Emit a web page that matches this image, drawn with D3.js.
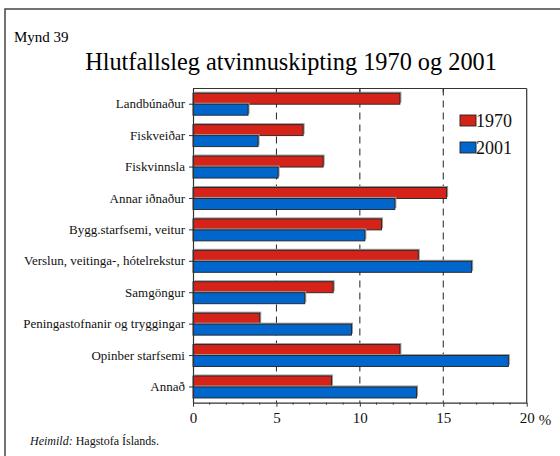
<!DOCTYPE html>
<html>
<head>
<meta charset="utf-8">
<script src="https://cdn.jsdelivr.net/npm/d3@7"></script>
<style>
  html, body { margin: 0; padding: 0; background: #fff; }
  svg { display: block; font-family: "Liberation Serif", "Times New Roman", serif; }
  svg text { font-family: "Liberation Serif", "Times New Roman", serif; }
</style>
</head>
<body>
<svg id="chart" width="560" height="456"></svg>
<script>
// Sectors and their share of employment (%)
const categories = [
  "Landbúnaður", "Fiskveiðar", "Fiskvinnsla", "Annar iðnaður",
  "Bygg.starfsemi, veitur", "Verslun, veitinga-, hótelrekstur",
  "Samgöngur", "Peningastofnanir og tryggingar", "Opinber starfsemi", "Annað"
];
const years = ["1970", "2001"];
const values1970 = [12.4, 6.6, 7.8, 15.2, 11.3, 13.5, 8.4, 4.0, 12.4, 8.3];
const values2001 = [3.3, 3.9, 5.1, 12.1, 10.3, 16.7, 6.7, 9.5, 18.9, 13.4];
const xTicks = [0, 5, 10, 15, 20];
const colors = ["#d6231a", "#0066cc"];

const svg = d3.select("#chart");
const plotLeft = 193, plotRight = 526.7, plotTop = 88.5, plotBottom = 402.7;

// outer frame
svg.append("rect").attr("x", 5).attr("y", 9).attr("width", 570).attr("height", 470)
  .attr("fill", "none").attr("stroke", "#444").attr("stroke-width", 1.5);

svg.append("text").attr("x", 14).attr("y", 42).attr("font-size", 15).text("Mynd 39");
svg.append("text").attr("x", 291).attr("y", 70).attr("font-size", 24.3)
  .attr("text-anchor", "middle").text("Hlutfallsleg atvinnuskipting 1970 og 2001");

const x = d3.scaleLinear().domain([0, 20]).range([plotLeft, plotRight]);
const y = d3.scaleBand().domain(categories).range([plotTop, plotBottom])
  .paddingInner(0.3).paddingOuter(0.15);
const ySub = d3.scaleBand().domain(years).range([0, y.bandwidth()]);

// dashed gridlines
svg.append("g").selectAll("line").data([5, 10, 15]).join("line")
  .attr("x1", d => x(d)).attr("x2", d => x(d))
  .attr("y1", plotTop).attr("y2", plotBottom)
  .attr("stroke", "#222").attr("stroke-width", 1).attr("stroke-dasharray", "7,5");

// bars
const series = [values1970, values2001];
series.forEach((vals, si) => {
  const g = svg.append("g");
  const rows = categories.map((c, i) => ({ c, v: vals[i] }));
  g.selectAll("rect.shadow").data(rows).join("rect").attr("class", "shadow")
    .attr("x", x(0) + 1.5).attr("y", d => y(d.c) + ySub(years[si]) - 1.5)
    .attr("width", d => x(d.v) - x(0)).attr("height", ySub.bandwidth())
    .attr("fill", "#999");
  g.selectAll("rect.bar").data(rows).join("rect").attr("class", "bar")
    .attr("x", x(0)).attr("y", d => y(d.c) + ySub(years[si]))
    .attr("width", d => x(d.v) - x(0)).attr("height", ySub.bandwidth())
    .attr("fill", colors[si]).attr("stroke", "#222").attr("stroke-width", 0.9);
});

// plot frame
svg.append("line").attr("x1", plotLeft).attr("x2", plotRight).attr("y1", plotTop).attr("y2", plotTop)
  .attr("stroke", "#333").attr("stroke-width", 1.2);
svg.append("line").attr("x1", plotRight).attr("x2", plotRight).attr("y1", plotTop).attr("y2", plotBottom)
  .attr("stroke", "#333").attr("stroke-width", 1.2);
svg.append("g").selectAll("line").data([5, 10, 15]).join("line")
  .attr("x1", d => x(d)).attr("x2", d => x(d)).attr("y1", plotTop).attr("y2", plotTop + 4)
  .attr("stroke", "#333");

// bottom axis: major ticks with labels, minor ticks every unit
const xAxis = svg.append("g").attr("transform", `translate(0,${plotBottom})`)
  .call(d3.axisBottom(x).tickValues(xTicks).tickSize(4).tickPadding(6).tickSizeOuter(0)
    .tickFormat(d3.format("d")))
  .attr("font-family", null);
xAxis.select(".domain").attr("stroke", "#333").attr("stroke-width", 1.2);
xAxis.selectAll(".tick line").attr("stroke", "#333");
xAxis.selectAll(".tick text").style("font-size", "15px").attr("fill", "#111");
svg.append("g").selectAll("line").data(d3.range(0, 21).filter(d => d % 5 !== 0)).join("line")
  .attr("x1", d => x(d)).attr("x2", d => x(d)).attr("y1", plotBottom).attr("y2", plotBottom + 2)
  .attr("stroke", "#333");
svg.append("text").attr("x", x(20) + 12).attr("y", plotBottom + 22).style("font-size", "15px")
  .attr("fill", "#111").text("%");

// left axis with category labels
const yAxis = svg.append("g").attr("transform", `translate(${plotLeft},0)`)
  .call(d3.axisLeft(y).tickSize(4).tickPadding(4).tickSizeOuter(0))
  .attr("font-family", null);
yAxis.select(".domain").attr("stroke", "#333").attr("stroke-width", 1.2);
yAxis.selectAll(".tick line").attr("stroke", "#333");
yAxis.selectAll(".tick text").style("font-size", "13px").attr("fill", "#111");

// legend
const legend = svg.append("g");
years.forEach((yr, i) => {
  const ly = 115 + i * 27;
  legend.append("rect").attr("x", 460).attr("y", ly).attr("width", 16).attr("height", 11)
    .attr("fill", colors[i]).attr("stroke", "#222").attr("stroke-width", 0.9);
  legend.append("text").attr("x", 476).attr("y", ly + 11.5).attr("font-size", 18)
    .attr("fill", "#111").text(yr);
});

// source note
const src = svg.append("text").attr("x", 30).attr("y", 445).attr("font-size", 12).attr("fill", "#111");
src.append("tspan").attr("font-style", "italic").text("Heimild:");
src.append("tspan").text(" Hagstofa Íslands.");
</script>
</body>
</html>
